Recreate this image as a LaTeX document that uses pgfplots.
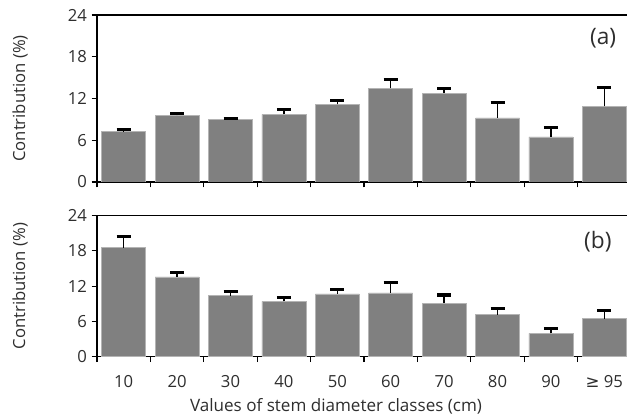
\documentclass[border=0pt]{standalone}
\usepackage{pgfplots}
\pgfplotsset{compat=1.18}
\usepackage{fontspec}
\setmainfont{Open Sans}
\newfontfamily\symfont{DejaVu Sans}

\definecolor{barfill}{HTML}{808080}
\definecolor{baredge}{HTML}{B4B4B4}
\definecolor{txt}{HTML}{2E2E2E}

\pgfplotsset{
  panel/.style={
    scale only axis,
    width=397.5pt,
    xmin=-0.5, xmax=9.425,
    ymin=0, ymax=24,
    ytick={0,6,...,24},
    axis x line=box, axis y line=left,
    y axis line style={-},
    axis line style={line width=1.1pt, black},
    xtick={0,...,9},
    minor xtick={-0.5,0.5,...,8.5},
    xtick pos=bottom,
    major x tick style={draw=none},
    minor x tick style={line width=0.8pt, black},
    y tick style={line width=0.8pt, black},
    tick align=outside,
    major tick length=4pt, minor tick length=4pt,
    ylabel={Contribution (\%)},
    ylabel style={at={(axis description cs:-0.145,0.5)}, anchor=center},
    font=\fontsize{12.5}{14}\selectfont\color{txt},
    /pgf/number format/assume math mode=true,
    ybar, bar width=0.824,
    error bars/y dir=plus, error bars/y explicit,
    error bars/error bar style={black, line width=1pt},
    error bars/error mark options={black, rotate=90, line width=2.3pt, mark size=5.25pt},
  },
  bars/.style={fill=barfill, draw=baredge, line width=0.6pt},
}

\begin{document}
\begin{tikzpicture}
\begin{axis}[panel,
  at={(72.75pt,174pt)}, anchor=south west,
  height=125.25pt,
  xticklabels={},
]
\addplot[bars] coordinates {
  (0,7.23) +- (0,0.35)
  (1,9.58) +- (0,0.26)
  (2,8.95) +- (0,0.20)
  (3,9.72) +- (0,0.72)
  (4,11.16) +- (0,0.57)
  (5,13.46) +- (0,1.29)
  (6,12.74) +- (0,0.69)
  (7,9.20) +- (0,2.25)
  (8,6.47) +- (0,1.38)
  (9,10.87) +- (0,2.73)
};
\node[font=\fontsize{17}{19}\selectfont\color{txt}] at (axis description cs:0.955,0.862) {(a)};
\end{axis}

\begin{axis}[panel,
  at={(72.75pt,43pt)}, anchor=south west,
  height=105.75pt,
  xticklabels={10,20,30,40,50,60,70,80,90,{\symfont ≥} 95},
  xticklabel style={anchor=center, yshift=-15pt},
  xlabel={Values of stem diameter classes (cm)},
  xlabel style={at={(axis description cs:0.451,0)}, anchor=center, yshift=-37pt, font=\fontsize{12.8}{14}\selectfont\color{txt}},
]
\addplot[bars] coordinates {
  (0,18.55) +- (0,1.94)
  (1,13.57) +- (0,0.79)
  (2,10.38) +- (0,0.75)
  (3,9.43) +- (0,0.68)
  (4,10.67) +- (0,0.80)
  (5,10.84) +- (0,1.82)
  (6,9.09) +- (0,1.41)
  (7,7.15) +- (0,1.09)
  (8,3.98) +- (0,0.85)
  (9,6.47) +- (0,1.31)
};
\node[font=\fontsize{17}{19}\selectfont\color{txt}] at (axis description cs:0.945,0.816) {(b)};
\end{axis}
\pgfresetboundingbox
\path (0,0) rectangle (470.25pt,310.5pt);
\end{tikzpicture}
\end{document}
